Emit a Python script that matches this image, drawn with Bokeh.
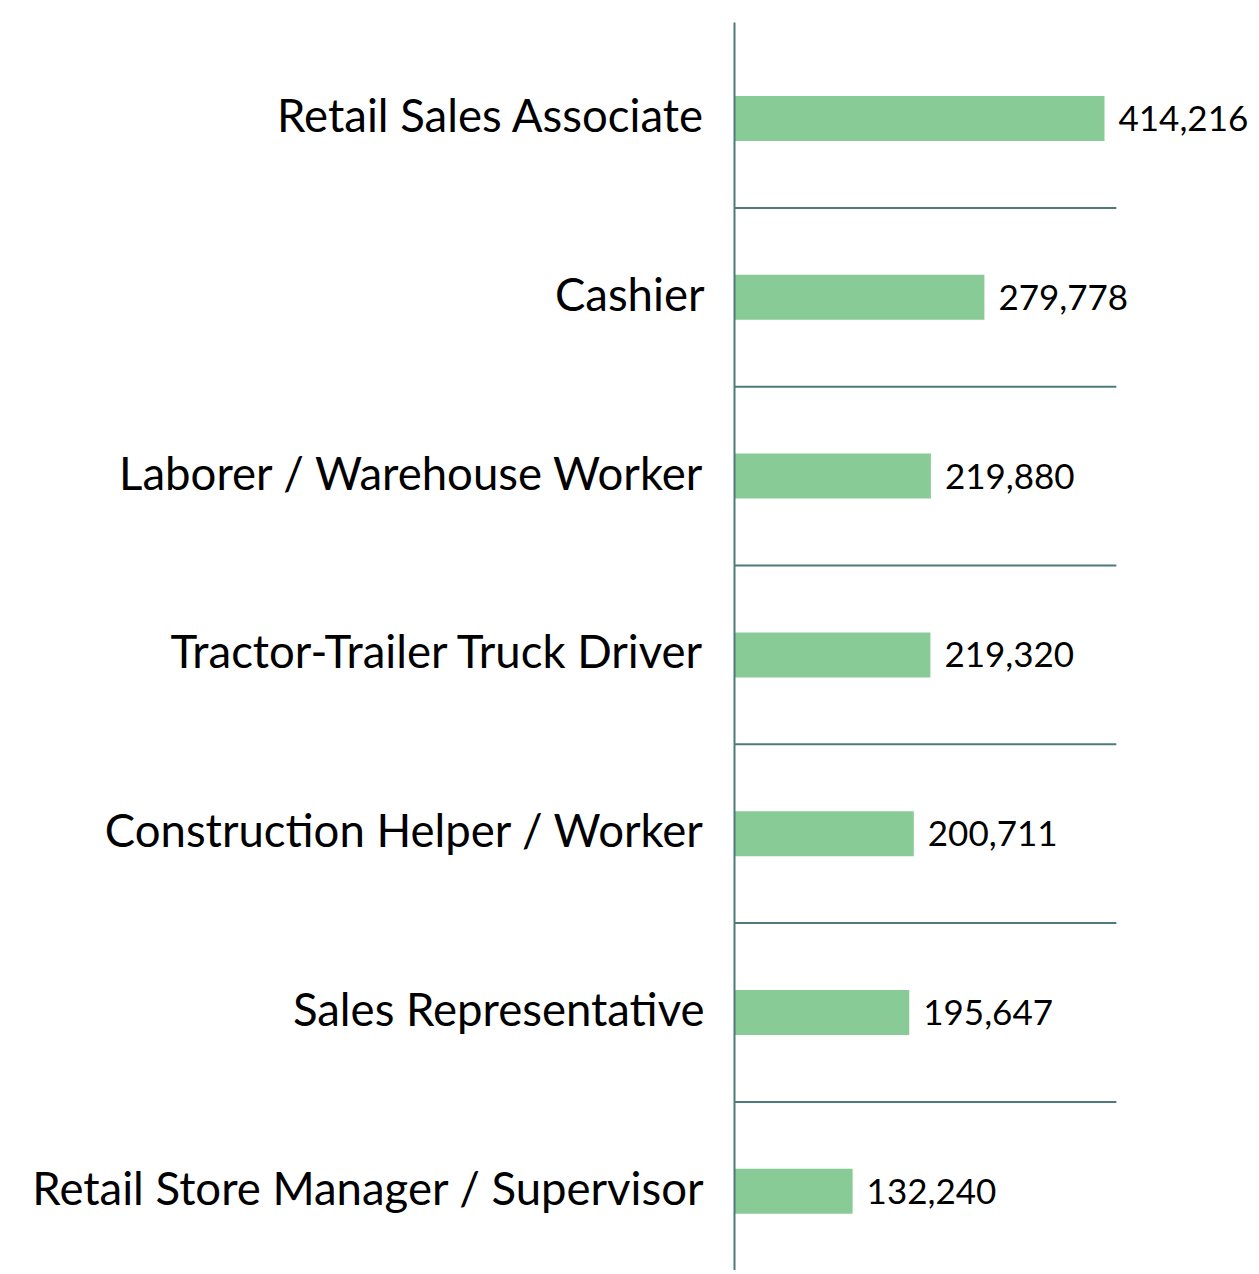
from bokeh.plotting import figure
from bokeh.models import ColumnDataSource, Range1d
from bokeh.core.properties import value
from bokeh.embed import file_html
from bokeh.resources import INLINE

categories = [
    "Retail Sales Associate",
    "Cashier",
    "Laborer / Warehouse Worker",
    "Tractor-Trailer Truck Driver",
    "Construction Helper / Worker",
    "Sales Representative",
    "Retail Store Manager / Supervisor",
]
values = [414216, 279778, 219880, 219320, 200711, 195647, 132240]

# layout constants (pixels)
W, H = 1255, 1270
zero_px = 734          # x of the value axis inside the frame
max_bar_px = 370       # pixel length of the largest bar
first_center_px = 118  # y of first bar center inside the frame
step_px = 178.8        # spacing between categories

upp = max(values) / max_bar_px  # data units per pixel
x_start = -zero_px * upp
x_end = (W - zero_px) * upp
y_top = -first_center_px / step_px
y_bot = (H - first_center_px) / step_px

idx = list(range(len(categories)))
labels = [f"{v:,}" for v in values]
src = ColumnDataSource(dict(y=idx, v=values, cat=categories, lab=labels))

p = figure(width=W, height=H, output_backend="svg", toolbar_location=None,
           x_range=Range1d(x_start, x_end), y_range=Range1d(y_bot, y_top),
           min_border=0, min_border_left=0, min_border_right=0,
           min_border_top=0, min_border_bottom=0)
p.axis.visible = False
p.grid.visible = False
p.outline_line_color = None
p.background_fill_color = "white"

bar_h = 45 / step_px
p.hbar(y="y", left=0, right="v", height=bar_h, source=src,
       fill_color="#88cb96", line_color=None)

# separators between categories
sep_y = [i + 0.5 for i in idx[:-1]]
sep_len = max(values) * 1.032
p.segment(x0=[0] * len(sep_y), x1=[sep_len] * len(sep_y), y0=sep_y, y1=sep_y,
          line_color="#4e7b79", line_width=2)

# vertical axis line
p.segment(x0=[0], x1=[0], y0=[y_top + 22 / step_px], y1=[y_bot],
          line_color="#4e7b79", line_width=2)

p.text(x=0, y="y", text="cat", source=src, x_offset=-30, y_offset=-4,
       text_align="right", text_baseline="middle",
       text_font=value("Lato"), text_font_size="45.5px", text_color="black")

p.text(x="v", y="y", text="lab", source=src, x_offset=14, y_offset=0,
       text_align="left", text_baseline="middle",
       text_font=value("Lato"), text_font_size="35px", text_color="black")

open("out.html", "w").write(file_html(p, INLINE))
